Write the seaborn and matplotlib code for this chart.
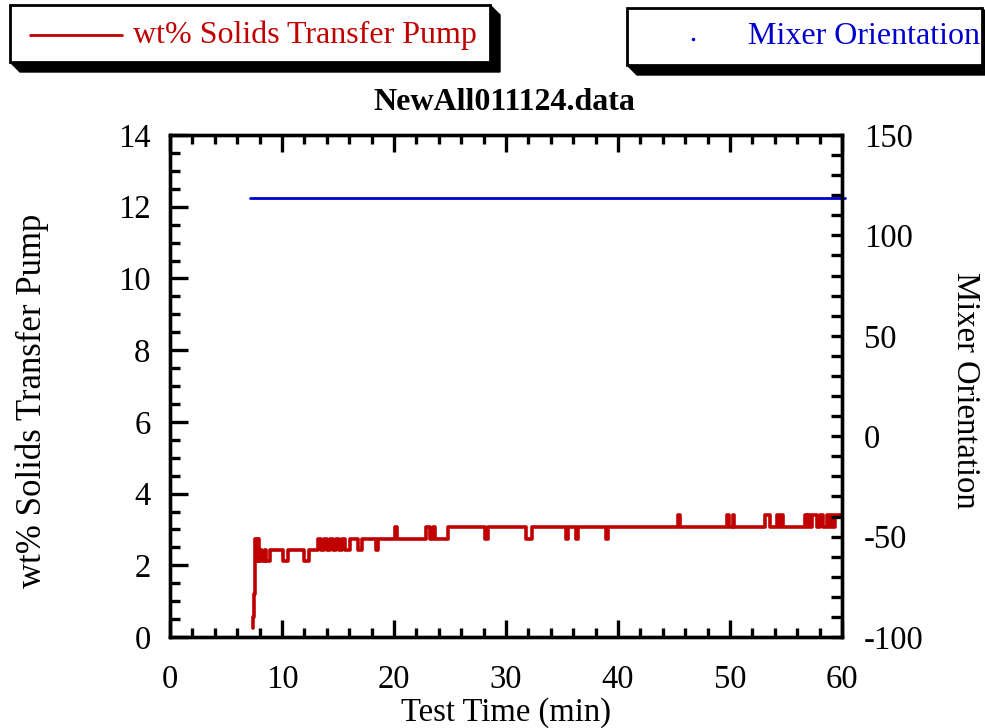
import numpy as np
import pandas as pd
import matplotlib
matplotlib.use("Agg")
import matplotlib.pyplot as plt
from matplotlib.patches import Rectangle, Polygon
from matplotlib.lines import Line2D
from matplotlib.ticker import MultipleLocator
import seaborn as sns

# ---------------- data ----------------
pump_time = [7.38, 7.42, 7.50, 7.56, 7.60, 7.68, 7.74, 7.82, 7.88, 7.96, 8.05, 8.20, 8.45, 8.60, 8.90,
             10.10, 10.50, 12.00, 12.45, 13.20, 13.50, 13.75, 14.00, 14.30, 14.55, 14.85, 15.10, 15.40,
             15.65, 16.05, 16.80, 17.10, 18.40, 18.55, 20.10, 20.30, 22.85, 23.25, 23.50, 23.70, 24.85,
             28.10, 28.40, 31.75, 32.30, 35.40, 35.55, 36.25, 36.40, 38.90, 39.10, 45.35, 45.50, 49.75,
             49.90, 50.25, 50.40, 53.10, 53.60, 54.20, 54.35, 54.55, 54.70, 56.70, 56.85, 57.00, 57.15,
             57.35, 57.80, 58.00, 58.30, 58.70, 58.85, 59.05, 59.20, 59.35, 60.00]
pump_wt = [0.26, 0.57, 1.20, 1.80, 2.72, 2.12, 2.72, 2.12, 2.72, 2.12, 2.42, 2.12, 2.42, 2.12, 2.42,
           2.12, 2.42, 2.12, 2.42, 2.72, 2.42, 2.72, 2.42, 2.72, 2.42, 2.72, 2.42, 2.72,
           2.42, 2.72, 2.42, 2.72, 2.42, 2.72, 3.08, 2.72, 3.08, 2.72, 3.08, 2.72, 3.08,
           2.72, 3.08, 2.72, 3.08, 2.72, 3.08, 2.72, 3.08, 2.72, 3.08, 3.40, 3.08, 3.40,
           3.08, 3.40, 3.08, 3.40, 3.08, 3.40, 3.08, 3.40, 3.08, 3.40, 3.08, 3.40, 3.08,
           3.40, 3.08, 3.40, 3.08, 3.40, 3.08, 3.40, 3.08, 3.40, 3.40]

mixer_time = [7.15, 60.3]
mixer_orient = [118.5, 118.5]

x_ticks = [0, 10, 20, 30, 40, 50, 60]
y_left_ticks = [0, 2, 4, 6, 8, 10, 12, 14]
y_right_ticks = [-100, -50, 0, 50, 100, 150]

RED = "#C00000"
BLUE = "#0000CC"

# ---------------- style ----------------
sns.set_style("ticks")
plt.rcParams["font.family"] = ["Liberation Serif", "DejaVu Serif"]
plt.rcParams["axes.linewidth"] = 2.4
plt.rcParams["axes.unicode_minus"] = False
plt.rcParams["text.color"] = "black"
plt.rcParams["axes.labelcolor"] = "black"
plt.rcParams["axes.edgecolor"] = "black"
plt.rcParams["xtick.color"] = "black"
plt.rcParams["ytick.color"] = "black"

W, H = 985, 728
fig = plt.figure(figsize=(W / 100, H / 100), dpi=100)


def fx(px):
    return px / W


def fy(py):
    return 1 - py / H


L, R, T, B = 170, 842, 135, 637
ax = fig.add_axes([fx(L), fy(B), (R - L) / W, (B - T) / H])

df_pump = pd.DataFrame({"t": pump_time, "wt": pump_wt})
sns.lineplot(data=df_pump, x="t", y="wt", ax=ax, color=RED, linewidth=2.6,
             drawstyle="steps-post", estimator=None, sort=False, legend=False)

ax.set_xlim(0, 60)
ax.set_ylim(0, 14)
ax.set_xticks(x_ticks)
ax.set_yticks(y_left_ticks)
ax.xaxis.set_minor_locator(MultipleLocator(2))
ax.yaxis.set_minor_locator(MultipleLocator(0.5))
ax.tick_params(axis="both", which="both", direction="in", width=2.4, labelsize=23.5,
               colors="black")
ax.tick_params(axis="x", which="major", length=12, top=True, pad=20)
ax.tick_params(axis="x", which="minor", length=6.5, top=True)
ax.tick_params(axis="y", which="major", length=13, right=False, pad=14)
ax.tick_params(axis="y", which="minor", length=7, right=False)
for sp in ax.spines.values():
    sp.set_color("black")
    sp.set_linewidth(2.4)

ax.set_xlabel("Test Time (min)", fontsize=23.5, color="black")
ax.xaxis.set_label_coords(0.5, -0.12)
ax.set_ylabel("wt% Solids Transfer Pump", fontsize=25, va="center", color="black")
ax.yaxis.set_label_coords(-0.205, 0.47)

ax2 = ax.twinx()
df_mix = pd.DataFrame({"t": mixer_time, "o": mixer_orient})
sns.lineplot(data=df_mix, x="t", y="o", ax=ax2, color=BLUE, linewidth=2.0,
             estimator=None, sort=False, legend=False)
ax2.lines[-1].set_clip_on(False)
ax2.set_ylim(-100, 150)
ax2.set_xlim(0, 60)
ax2.set_yticks(y_right_ticks)
ax2.yaxis.set_minor_locator(MultipleLocator(10))
ax2.tick_params(axis="y", which="both", direction="in", length=8, width=2.4, labelsize=23.5,
                pad=16, colors="black")
ax2.set_ylabel("Mixer Orientation", fontsize=23.5, rotation=270, va="center", color="black")
ax2.yaxis.set_label_coords(1.183, 0.492)
for sp in ax2.spines.values():
    sp.set_linewidth(2.4)
    sp.set_color("black")

fig.text(fx(504), fy(102), "NewAll011124.data", ha="center", va="center",
         fontsize=23, fontweight="bold", color="black")


# ---------------- legend boxes ----------------
def box(x0, y0, x1, y1, d=10):
    shadow = Polygon([(fx(x0), fy(y1)), (fx(x0 + d), fy(y1 + d)), (fx(x1 + d), fy(y1 + d)),
                      (fx(x1 + d), fy(y0 + d)), (fx(x1), fy(y0))],
                     closed=True, transform=fig.transFigure, facecolor="black",
                     edgecolor="black", zorder=1)
    fig.patches.append(shadow)
    rect = Rectangle((fx(x0), fy(y1)), fx(x1) - fx(x0), fy(y0) - fy(y1),
                     transform=fig.transFigure, facecolor="white", edgecolor="black",
                     linewidth=2.0, zorder=2)
    fig.patches.append(rect)


box(10, 5, 490, 62)
box(627, 8, 982, 65)

fig.lines.append(Line2D([fx(30), fx(122)], [fy(35), fy(35)], transform=fig.transFigure,
                        color=RED, linewidth=2.0, zorder=3))
fig.text(fx(133), fy(35), "wt% Solids Transfer Pump", color=RED, fontsize=23,
         ha="left", va="center", zorder=4)

fig.lines.append(Line2D([fx(693)], [fy(39)], transform=fig.transFigure, color=BLUE,
                        marker=".", markersize=3, linestyle="none", zorder=3))
fig.text(fx(748), fy(37), "Mixer Orientation", color=BLUE, fontsize=23,
         ha="left", va="center", zorder=4)

fig.savefig("out.png", dpi=100)
